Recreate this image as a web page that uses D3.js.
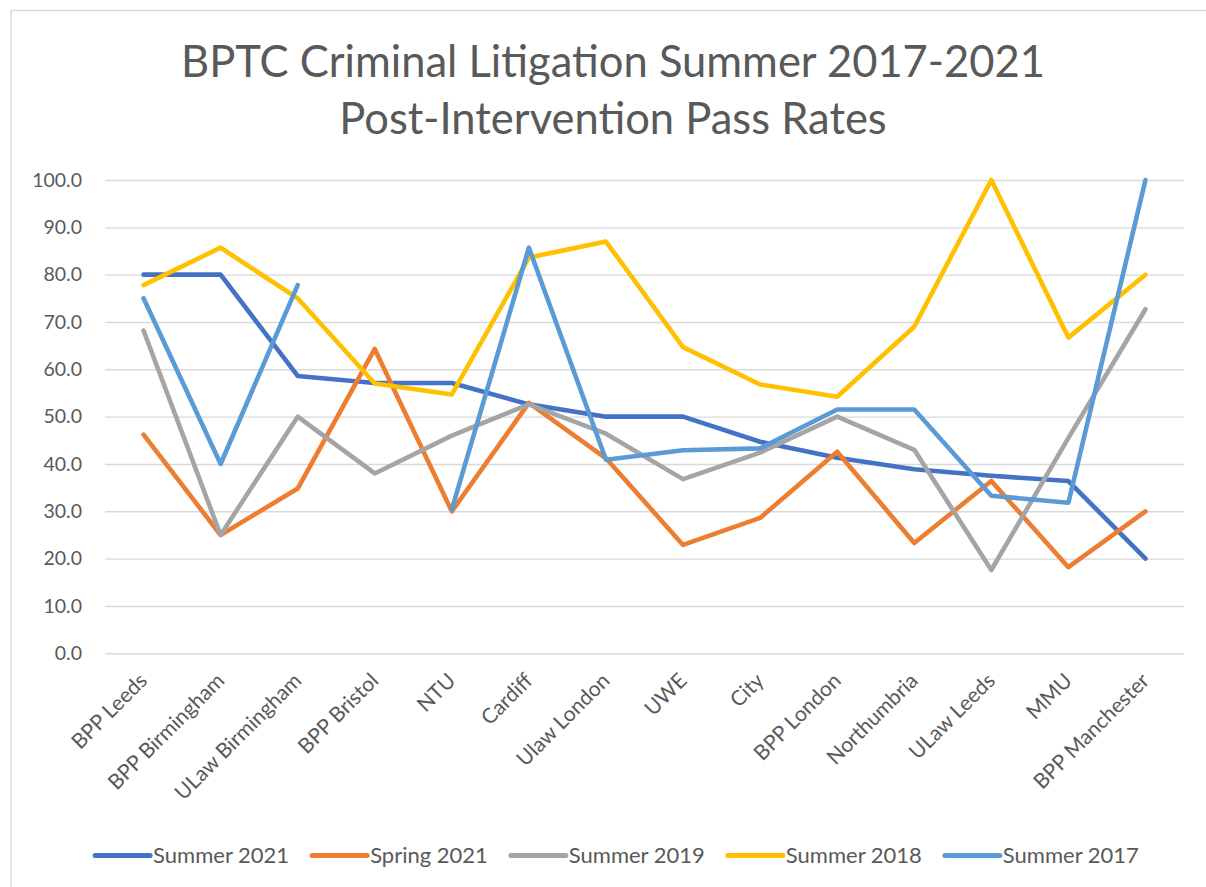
<!DOCTYPE html>
<html>
<head>
<meta charset="utf-8">
<script src="https://cdn.jsdelivr.net/npm/d3@7"></script>
<style>
  body { margin: 0; background: #fff; }
  svg { display: block; font-family: Lato, "Open Sans", sans-serif; }
</style>
</head>
<body>
<div id="chart"></div>
<script>
// the data
var categories = ['BPP Leeds', 'BPP Birmingham', 'ULaw Birmingham', 'BPP Bristol', 'NTU', 'Cardiff',
    'Ulaw London', 'UWE', 'City', 'BPP London', 'Northumbria', 'ULaw Leeds', 'MMU', 'BPP Manchester'];
var summer2021 = [80, 80, 58.6, 57.1, 57.1, 52.6, 50, 50, 44.7, 41.3, 38.9, 37.5, 36.4, 20];
var spring2021 = [46.2, 25, 34.8, 64.3, 30, 52.9, 41.2, 22.9, 28.6, 42.6, 23.3, 36.4, 18.2, 30];
var summer2019 = [68.2, 25, 50, 38, 46, 52.6, 46.4, 36.8, 42.4, 50, 43, 17.6, 45.5, 72.7];
var summer2018 = [77.8, 85.7, 75, 57, 54.7, 83.6, 87, 64.7, 56.8, 54.2, 69, 100, 66.7, 80];
var summer2017 = [75, 40, 77.8, null, 30.4, 85.7, 40.9, 42.9, 43.3, 51.5, 51.5, 33.3, 31.8, 100];
var seriesNames = ['Summer 2021', 'Spring 2021', 'Summer 2019', 'Summer 2018', 'Summer 2017'];
var seriesValues = [summer2021, spring2021, summer2019, summer2018, summer2017];
var seriesColors = ['#4472C4', '#ED7D31', '#A5A5A5', '#FFC000', '#5B9BD5'];
var yTicks = [0, 10, 20, 30, 40, 50, 60, 70, 80, 90, 100];
var titleLines = ['BPTC Criminal Litigation Summer 2017-2021', 'Post-Intervention Pass Rates'];

var W = 1206, H = 887;
var plot = {left: 105, right: 1184, top: 180, bottom: 653.3};

var svg = d3.select('#chart').append('svg')
    .attr('width', W)
    .attr('height', H);

// chart border (only left and top edges are in frame)
svg.append('path')
    .attr('d', 'M11,' + H + 'V10.5H' + W)
    .attr('fill', 'none')
    .attr('stroke', '#d9d9d9')
    .attr('stroke-width', 1.5);

// title
svg.selectAll('.title')
    .data(titleLines)
    .enter().append('text')
    .attr('class', 'title')
    .attr('x', 613)
    .attr('y', function(d, i) { return 77 + i * 57; })
    .attr('text-anchor', 'middle')
    .attr('fill', '#595959')
    .style('font-size', '43.5px')
    .text(function(d) { return d; });

// set the ranges
var x = d3.scaleBand().domain(categories).range([plot.left, plot.right]);
var y = d3.scaleLinear().domain([0, 100]).range([plot.bottom, plot.top]);

// gridlines + y labels
var yAxis = svg.append('g')
    .attr('transform', 'translate(' + plot.left + ',0)')
    .call(d3.axisLeft(y).tickValues(yTicks).tickFormat(d3.format('.1f'))
        .tickSize(-(plot.right - plot.left)).tickPadding(23));
yAxis.select('.domain').remove();
yAxis.selectAll('.tick line').attr('stroke', '#d9d9d9').attr('stroke-width', 1.4);
yAxis.selectAll('.tick text')
    .attr('fill', '#595959')
    .style('font-size', '19.5px')
    .style('font-family', 'Lato, sans-serif');

// x labels, rotated
svg.append('g').selectAll('text')
    .data(categories)
    .enter().append('text')
    .attr('transform', function(d) {
        return 'translate(' + (x(d) + x.bandwidth() / 2 + 5) + ',' + 682 + ') rotate(-45)';
    })
    .attr('text-anchor', 'end')
    .attr('fill', '#595959')
    .style('font-size', '21px')
    .text(function(d) { return d; });

// define the line
var valueline = d3.line()
    .defined(function(d) { return d != null; })
    .x(function(d, i) { return x(categories[i]) + x.bandwidth() / 2; })
    .y(function(d) { return y(d); });

svg.append('g').selectAll('path')
    .data(seriesValues)
    .enter().append('path')
    .attr('fill', 'none')
    .attr('stroke', function(d, i) { return seriesColors[i]; })
    .attr('stroke-width', 4.6)
    .attr('stroke-linejoin', 'round')
    .attr('stroke-linecap', 'round')
    .attr('d', valueline);

// legend
var legend = svg.append('g');
var lx = 0;
seriesNames.forEach(function(name, i) {
    var item = legend.append('g').attr('transform', 'translate(' + lx + ',0)');
    item.append('line')
        .attr('x1', 0).attr('x2', 55)
        .attr('y1', 855.5).attr('y2', 855.5)
        .attr('stroke', seriesColors[i])
        .attr('stroke-width', 5)
        .attr('stroke-linecap', 'round');
    var t = item.append('text')
        .attr('x', 58)
        .attr('y', 863)
        .attr('fill', '#595959')
        .style('font-size', '22px')
        .text(name);
    lx += 58 + t.node().getComputedTextLength() + 23;
});
lx -= 23;
legend.attr('transform', 'translate(' + (617 - lx / 2) + ',0)');
</script>
</body>
</html>
